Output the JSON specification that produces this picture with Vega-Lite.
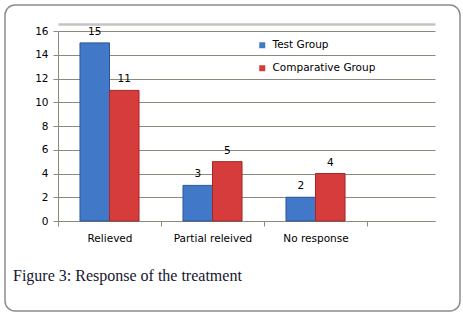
{
  "$schema": "https://vega.github.io/schema/vega-lite/v6.json",
  "width": 455,
  "height": 306,
  "autosize": {"type": "none"},
  "padding": {"left": 5, "top": 5, "right": 3, "bottom": 4},
  "config": {
    "view": {"stroke": "#8c8c8c", "strokeWidth": 1.5, "cornerRadius": 10},
    "font": "DejaVu Sans"
  },
  "title": {
    "text": "Figure 3: Response of the treatment",
    "orient": "bottom",
    "anchor": "start",
    "frame": "group",
    "font": "Liberation Serif",
    "fontSize": 16,
    "fontWeight": "normal",
    "color": "#161630",
    "offset": 0,
    "dx": 8,
    "dy": -43
  },
  "data": {
    "values": [
      {"cat": "Relieved", "group": "Test Group", "value": 15},
      {"cat": "Relieved", "group": "Comparative Group", "value": 11},
      {"cat": "Partial releived", "group": "Test Group", "value": 3},
      {"cat": "Partial releived", "group": "Comparative Group", "value": 5},
      {"cat": "No response", "group": "Test Group", "value": 2},
      {"cat": "No response", "group": "Comparative Group", "value": 4}
    ]
  },
  "encoding": {
    "x": {
      "field": "cat",
      "type": "nominal",
      "sort": null,
      "scale": {
        "domain": ["Relieved", "Partial releived", "No response"],
        "range": [53, 430],
        "paddingInner": 0,
        "paddingOuter": 0.33,
        "align": 0
      },
      "axis": {
        "orient": "bottom",
        "offset": -90,
        "title": null,
        "labelAngle": 0,
        "labelFontSize": 10.5,
        "labelColor": "#000000",
        "labelPadding": 7,
        "tickBand": "extent",
        "tickSize": 5,
        "tickColor": "#8a8a7a",
        "domainColor": "#8a8a7a",
        "grid": false
      }
    },
    "xOffset": {
      "field": "group",
      "type": "nominal",
      "sort": null,
      "scale": {
        "domain": ["Test Group", "Comparative Group"],
        "paddingInner": 0,
        "paddingOuter": 0.745
      }
    },
    "y": {
      "field": "value",
      "type": "quantitative",
      "scale": {"domain": [0, 16], "range": [216, 26], "nice": false, "zero": true},
      "axis": {
        "orient": "left",
        "offset": -53,
        "title": null,
        "values": [0, 2, 4, 6, 8, 10, 12, 14, 16],
        "labelFontSize": 10.5,
        "labelColor": "#000000",
        "labelPadding": 5,
        "tickSize": 5,
        "tickColor": "#8a8a7a",
        "domainColor": "#8a8a7a",
        "grid": true,
        "gridColor": "#8a8a7a",
        "gridWidth": 1
      }
    }
  },
  "layer": [
    {
      "mark": {"type": "bar", "strokeWidth": 1},
      "encoding": {
        "color": {
          "field": "group",
          "type": "nominal",
          "scale": {"domain": ["Test Group", "Comparative Group"], "range": ["#4178c8", "#d63c3c"]},
          "legend": {
            "orient": "none",
            "legendX": 252,
            "legendY": 35,
            "title": null,
            "symbolType": "square",
            "symbolSize": 36,
            "symbolStrokeWidth": 0,
            "labelFontSize": 10.5,
            "labelColor": "#000000",
            "rowPadding": 12,
            "labelOffset": 5,
            "padding": 0
          }
        },
        "stroke": {
          "field": "group",
          "type": "nominal",
          "scale": {"domain": ["Test Group", "Comparative Group"], "range": ["#2b579a", "#a02828"]},
          "legend": null
        }
      }
    },
    {
      "mark": {"type": "text", "baseline": "bottom", "dy": -6, "fontSize": 10.5, "color": "#000000"},
      "encoding": {
        "text": {"field": "value", "type": "quantitative"},
        "x": {
          "field": "cat",
          "type": "nominal",
          "sort": null,
          "scale": {
            "domain": ["Relieved", "Partial releived", "No response"],
            "range": [53, 430],
            "paddingInner": 0,
            "paddingOuter": 0.33,
            "align": 0
          },
          "axis": {
            "orient": "top",
            "offset": -19,
            "title": null,
            "labels": false,
            "ticks": false,
            "grid": false,
            "domain": true,
            "domainColor": "#c4c4c4",
            "domainWidth": 2.5
          }
        }
      }
    }
  ],
  "resolve": {"axis": {"x": "independent"}}
}
